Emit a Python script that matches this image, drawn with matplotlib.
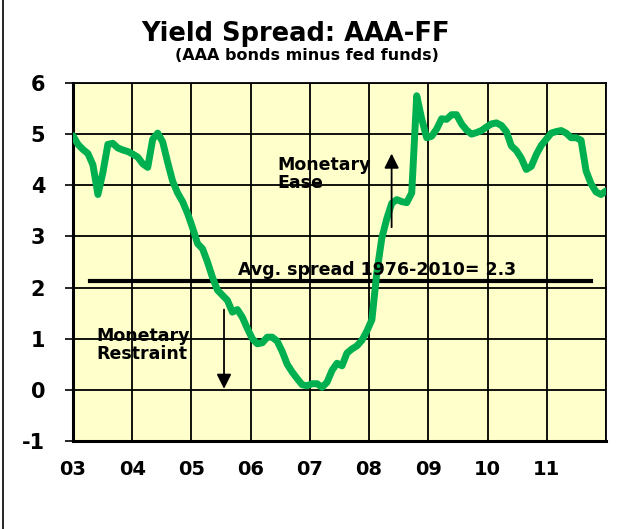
import matplotlib
matplotlib.use("Agg")
import numpy as np
import matplotlib.pyplot as plt
from matplotlib.lines import Line2D

plt.rcParams['font.family'] = ['DejaVu Sans']
plt.rcParams['font.weight'] = 'bold'
plt.rcParams['axes.unicode_minus'] = False

# monthly spread, Jan 2003 - Dec 2011
spread = [4.97, 4.80, 4.70, 4.62, 4.40, 3.82, 4.25, 4.80, 4.82, 4.73, 4.69, 4.66,
          4.61, 4.55, 4.42, 4.35, 4.90, 5.02, 4.85, 4.45, 4.08, 3.85, 3.68, 3.45,
          3.17, 2.86, 2.76, 2.50, 2.20, 1.95, 1.85, 1.75, 1.52, 1.57, 1.42, 1.20,
          1.00, 0.90, 0.92, 1.03, 1.03, 0.95, 0.75, 0.50, 0.35, 0.22, 0.10, 0.08,
          0.12, 0.12, 0.05, 0.15, 0.38, 0.52, 0.47, 0.72, 0.80, 0.86, 0.97, 1.15,
          1.37, 2.30, 2.97, 3.35, 3.65, 3.72, 3.68, 3.66, 3.85, 5.75, 5.30, 4.93,
          4.96, 5.10, 5.30, 5.29, 5.38, 5.38, 5.20, 5.08, 5.00, 5.03, 5.07, 5.14,
          5.20, 5.22, 5.17, 5.05, 4.77, 4.68, 4.53, 4.31, 4.37, 4.60, 4.78, 4.90,
          5.02, 5.05, 5.07, 5.02, 4.93, 4.93, 4.88, 4.28, 4.03, 3.87, 3.82, 3.89]
years = [2003, 2004, 2005, 2006, 2007, 2008, 2009, 2010, 2011]
year_labels = ['03', '04', '05', '06', '07', '08', '09', '10', '11']
avg_level = 2.13
avg_label = 'Avg. spread 1976-2010= 2.3'

x = np.linspace(2003, 2012, len(spread))

fig = plt.figure(figsize=(6.23, 5.29), dpi=100)
ax = fig.add_axes([73/623, 1 - 441/529, 533/623, 358/529])
ax.set_facecolor('#FFFFCC')

ax.set_xlim(2003, 2012)
ax.set_ylim(-1, 6)
ax.set_xticks(list(years) + [2012])
ax.set_xticklabels(year_labels + [''])
ax.set_yticks(range(-1, 7))
ax.grid(True, color='black', linewidth=1.3)
ax.set_axisbelow(True)

ax.tick_params(axis='x', length=0, pad=14, labelsize=14)
ax.tick_params(axis='y', length=6, width=1.2, pad=14, labelsize=15)
for lab in ax.get_xticklabels() + ax.get_yticklabels():
    lab.set_fontweight('bold')

for s in ['left', 'bottom']:
    ax.spines[s].set_linewidth(2.2)
for s in ['top', 'right']:
    ax.spines[s].set_linewidth(1.3)

ax.plot(x, spread, color='#00B050', linewidth=5, solid_joinstyle='round',
        solid_capstyle='round', zorder=3)

ax.plot([2003.28, 2011.74], [avg_level, avg_level], color='black', linewidth=3, zorder=2)
ax.text(2005.79, 2.25, avg_label, fontsize=12.5, fontweight='bold', va='baseline')

ax.text(2006.45, 4.58, 'Monetary\nEase', fontsize=12.5, fontweight='bold',
        va='top', linespacing=1.0)
ax.annotate('', xy=(2008.38, 4.62), xytext=(2008.38, 3.18),
            arrowprops=dict(arrowstyle='-|>', color='black', lw=1.3,
                            mutation_scale=22, shrinkA=0, shrinkB=0))

ax.text(2003.39, 1.22, 'Monetary\nRestraint', fontsize=12.5, fontweight='bold',
        va='top', linespacing=1.0)
ax.annotate('', xy=(2005.55, 0.02), xytext=(2005.55, 1.57),
            arrowprops=dict(arrowstyle='-|>', color='black', lw=1.3,
                            mutation_scale=22, shrinkA=0, shrinkB=0))

fig.text(296/623, 1 - 41/529, 'Yield Spread: AAA-FF', fontsize=18.5, fontweight='bold',
         ha='center', va='baseline')
fig.text(307/623, 1 - 60/529, '(AAA bonds minus fed funds)', fontsize=11.5, fontweight='bold',
         ha='center', va='baseline')

fig.add_artist(Line2D([3/623, 3/623], [0, 1], transform=fig.transFigure,
                      color='black', linewidth=1.2))

fig.savefig('out.png', dpi=100)
